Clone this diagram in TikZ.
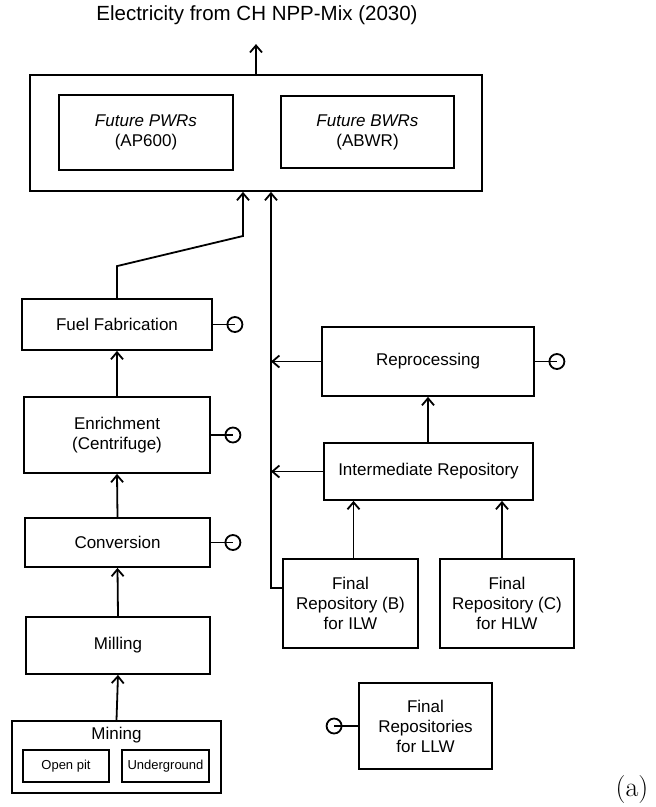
\documentclass[tikz,border=0pt]{standalone}
\usepackage{fontspec}
\newfontfamily\helv{Liberation Sans}
\usetikzlibrary{arrows.meta}
\tikzset{
    box/.style={draw,line width=1.8pt,align=center,inner sep=0pt,
        font=\helv\fontsize{17}{20}\selectfont},
    minibox/.style={draw,line width=1.5pt,inner sep=0pt,
        font=\helv\fontsize{13}{15}\selectfont},
    arr/.style={-{Straight Barb[length=7pt,width=12pt,line width=1.8pt]},line width=1.8pt},
    sink/.style={draw,circle,line width=1.8pt,minimum size=15pt,inner sep=0pt},
}
\begin{document}
\begin{tikzpicture}[x=1pt,y=-1pt]
    \useasboundingbox (0,0) rectangle (656,807);
    %draw plants
    \node[font=\helv\fontsize{20.5}{24}\selectfont] (title) at (257,15) {Electricity from CH NPP-Mix (2030)};
    \node[box,minimum width=452pt,minimum height=116pt] (plant) at (256,133) {};
    \node[box,minimum width=174pt,minimum height=75pt] (pwr) at (146,132.5) {\itshape Future PWRs\\(AP600)};
    \node[box,minimum width=173pt,minimum height=72pt] (bwr) at (367.5,132) {\itshape Future BWRs\\(ABWR)};
    %draw front end
    \node[box,minimum width=190pt,minimum height=51pt] (fab) at (117,324.5) {Fuel Fabrication};
    \node[box,minimum width=186pt,minimum height=76pt] (enr) at (117,435) {Enrichment\\(Centrifuge)};
    \node[box,minimum width=185pt,minimum height=49pt] (conv) at (117.5,542.5) {Conversion};
    \node[box,minimum width=184pt,minimum height=57pt] (mill) at (118,645.5) {Milling};
    \node[box,minimum width=209pt,minimum height=72pt] (mine) at (116.5,757) {};
    \node[font=\helv\fontsize{17}{20}\selectfont] (minelbl) at (116.5,735) {Mining};
    \node[minibox,minimum width=86pt,minimum height=32pt] (openpit) at (66,766) {Open pit};
    \node[minibox,minimum width=87pt,minimum height=32pt] (underground) at (165.5,766) {Underground};
    %draw back end
    \node[box,minimum width=212pt,minimum height=69pt] (repro) at (428,361.5) {Reprocessing};
    \node[box,minimum width=209pt,minimum height=57pt] (inter) at (428.5,471.5) {Intermediate Repository};
    \node[box,minimum width=135pt,minimum height=89pt] (ilw) at (350.5,603.5) {Final\\Repository (B)\\for ILW};
    \node[box,minimum width=134pt,minimum height=89pt] (hlw) at (507,603.5) {Final\\Repository (C)\\for HLW};
    \node[box,minimum width=133pt,minimum height=86pt] (llw) at (425.5,726) {Final\\Repositories\\for LLW};
    \node[font=\fontsize{28}{32}\selectfont] (tag) at (632,790) {(a)};
    %draw lines
    \draw[arr,shorten >=16pt] (plant.north) -- (plant.north |- title.south);
    \foreach \a/\b in {mine/mill,mill/conv,conv/enr,enr/fab}
        {%
            \draw[arr] (\a.north) -- (\b.south);
        }
    \coordinate (bend) at (243,236);
    \draw[arr] (fab.north) -- ++(0,-32) -- (bend) -- (bend |- plant.south);
    \coordinate (bus) at (271,588);
    \draw[arr] (ilw.west |- bus) -- (bus) -- (bus |- plant.south);
    \draw[arr] (repro.west) -- (repro.west -| bus);
    \draw[arr] (inter.west) -- (inter.west -| bus);
    \draw[arr] (inter.north -| repro.south) -- (repro.south);
    \draw[arr] ([xshift=3pt]ilw.north) -- ([xshift=3pt]ilw.north |- inter.south);
    \draw[arr] ([xshift=-5pt]hlw.north) -- ([xshift=-5pt]hlw.north |- inter.south);
    %draw waste outlets
    \foreach \n in {fab,enr,conv,repro}
        {%
            \draw[line width=1.8pt] (\n.east) -- ++(22,0) node[sink] (\n sink) {};
        }
    \draw[line width=1.8pt] (llw.west) -- ++(-24,0) node[sink] (llwsink) {};
\end{tikzpicture}
\end{document}
